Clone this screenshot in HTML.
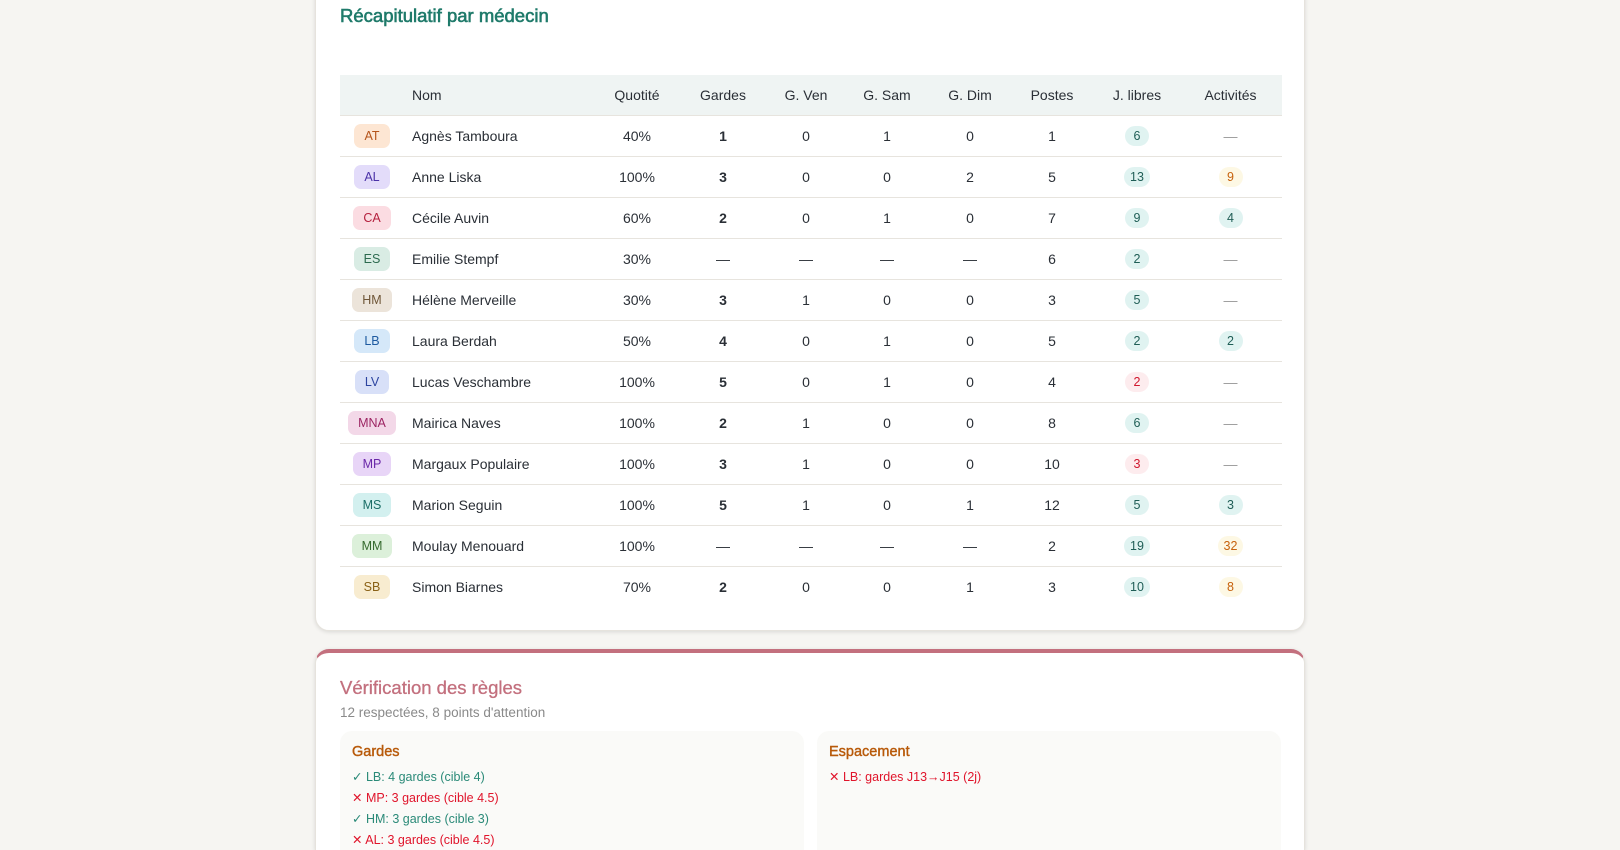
<!DOCTYPE html>
<html style="width:1620px;height:850px;overflow:hidden"><head><meta charset="utf-8"><style>
*{box-sizing:border-box;margin:0;padding:0}
body{width:1620px;height:850px;background:#f6f5f2;font-family:"Liberation Sans",sans-serif;position:relative;overflow:hidden;color:#2a2f36}
.card{position:absolute;left:315px;width:990px;background:#fff;border-radius:14px;box-shadow:0 1px 4px rgba(0,0,0,.12);border:1px solid #e6e3dd}
h2{position:absolute;left:24px;font-size:18.5px;font-weight:normal;-webkit-text-stroke:.6px}
table{position:absolute;left:24px;width:942px;border-collapse:collapse;table-layout:fixed;font-size:14px}
th{height:40px;background:#eff4f3;font-weight:normal;color:#2a2f36}
td{height:41px;border-top:1px solid #e7e4de;text-align:center}
th.n,td.n{text-align:left;padding-left:8px}
.av{display:inline-block;padding:0 10px;height:24px;line-height:24px;border-radius:7px;font-size:12.5px}
.b{font-weight:bold}
.pill{display:inline-block;min-width:24px;padding:0 6px;height:20px;line-height:20px;border-radius:10px;font-size:12.5px}
.g{background:#e0f3f1;color:#1f5e56}.r{background:#fdecee;color:#d0182e}.y{background:#fdf8e4;color:#c7620c}
.d{color:#9a9a9a}
.box{position:absolute;width:464px;height:140px;background:#fafaf8;border-radius:12px}
.box h3{position:absolute;left:12px;top:13px;font-size:14.5px;font-weight:normal;color:#b85a0a;-webkit-text-stroke:.4px}
.it{position:absolute;left:12px;font-size:12.5px}
.ok{color:#2a8a78}.ko{color:#e0142b}
</style></head><body>
<div class="card" style="top:-20px;height:651px">
<h2 style="top:24px;color:#1f7a6a">Récapitulatif par médecin</h2>
<table style="top:94px">
<colgroup><col style="width:64px"><col style="width:193px"><col style="width:80px"><col style="width:92px"><col style="width:74px"><col style="width:88px"><col style="width:78px"><col style="width:86px"><col style="width:84px"><col style="width:103px"></colgroup>
<tr><th></th><th class="n">Nom</th><th>Quotité</th><th>Gardes</th><th>G. Ven</th><th>G. Sam</th><th>G. Dim</th><th>Postes</th><th>J. libres</th><th>Activités</th></tr>
<tr><td><span class="av" style="background:#fde6d3;color:#b5541b">AT</span></td><td class="n">Agnès Tamboura</td><td>40%</td><td class="b">1</td><td>0</td><td>1</td><td>0</td><td>1</td><td><span class="pill g">6</span></td><td class="d">—</td></tr>
<tr><td><span class="av" style="background:#e3dcfa;color:#4b32a8">AL</span></td><td class="n">Anne Liska</td><td>100%</td><td class="b">3</td><td>0</td><td>0</td><td>2</td><td>5</td><td><span class="pill g">13</span></td><td><span class="pill y">9</span></td></tr>
<tr><td><span class="av" style="background:#fbdce2;color:#b5203e">CA</span></td><td class="n">Cécile Auvin</td><td>60%</td><td class="b">2</td><td>0</td><td>1</td><td>0</td><td>7</td><td><span class="pill g">9</span></td><td><span class="pill g">4</span></td></tr>
<tr><td><span class="av" style="background:#d9ece4;color:#2c6a4f">ES</span></td><td class="n">Emilie Stempf</td><td>30%</td><td>—</td><td>—</td><td>—</td><td>—</td><td>6</td><td><span class="pill g">2</span></td><td class="d">—</td></tr>
<tr><td><span class="av" style="background:#ece4da;color:#6f5638">HM</span></td><td class="n">Hélène Merveille</td><td>30%</td><td class="b">3</td><td>1</td><td>0</td><td>0</td><td>3</td><td><span class="pill g">5</span></td><td class="d">—</td></tr>
<tr><td><span class="av" style="background:#d5e8f9;color:#1e5aa0">LB</span></td><td class="n">Laura Berdah</td><td>50%</td><td class="b">4</td><td>0</td><td>1</td><td>0</td><td>5</td><td><span class="pill g">2</span></td><td><span class="pill g">2</span></td></tr>
<tr><td><span class="av" style="background:#d8e0f8;color:#2c44a0">LV</span></td><td class="n">Lucas Veschambre</td><td>100%</td><td class="b">5</td><td>0</td><td>1</td><td>0</td><td>4</td><td><span class="pill r">2</span></td><td class="d">—</td></tr>
<tr><td><span class="av" style="background:#f3d8e8;color:#9c2563">MNA</span></td><td class="n">Mairica Naves</td><td>100%</td><td class="b">2</td><td>1</td><td>0</td><td>0</td><td>8</td><td><span class="pill g">6</span></td><td class="d">—</td></tr>
<tr><td><span class="av" style="background:#e8d5f7;color:#6a27a8">MP</span></td><td class="n">Margaux Populaire</td><td>100%</td><td class="b">3</td><td>1</td><td>0</td><td>0</td><td>10</td><td><span class="pill r">3</span></td><td class="d">—</td></tr>
<tr><td><span class="av" style="background:#d3f0ef;color:#1b6e67">MS</span></td><td class="n">Marion Seguin</td><td>100%</td><td class="b">5</td><td>1</td><td>0</td><td>1</td><td>12</td><td><span class="pill g">5</span></td><td><span class="pill g">3</span></td></tr>
<tr><td><span class="av" style="background:#dcf0da;color:#356b2e">MM</span></td><td class="n">Moulay Menouard</td><td>100%</td><td>—</td><td>—</td><td>—</td><td>—</td><td>2</td><td><span class="pill g">19</span></td><td><span class="pill y">32</span></td></tr>
<tr><td><span class="av" style="background:#f8ecd0;color:#8a6116">SB</span></td><td class="n">Simon Biarnes</td><td>70%</td><td class="b">2</td><td>0</td><td>0</td><td>1</td><td>3</td><td><span class="pill g">10</span></td><td><span class="pill y">8</span></td></tr>
</table>
</div>
<div class="card" style="top:649px;height:201px;border-top:4px solid #c3707e;border-bottom:none;border-bottom-left-radius:0;border-bottom-right-radius:0">
<h2 style="top:24px;color:#c3707e;-webkit-text-stroke:.3px">Vérification des règles</h2>
<div style="position:absolute;left:24px;top:52px;font-size:13.5px;color:#8a8a8a">12 respectées, 8 points d'attention</div>
<div class="box" style="left:24px;top:78px">
<h3>Gardes</h3>
<div class="it ok" style="top:38px">✓ LB: 4 gardes (cible 4)</div>
<div class="it ko" style="top:59px">✕ MP: 3 gardes (cible 4.5)</div>
<div class="it ok" style="top:80px">✓ HM: 3 gardes (cible 3)</div>
<div class="it ko" style="top:101px">✕ AL: 3 gardes (cible 4.5)</div>
</div>
<div class="box" style="left:501px;top:78px">
<h3>Espacement</h3>
<div class="it ko" style="top:38px">✕ LB: gardes J13→J15 (2j)</div>
</div>
</div>
</body></html>
